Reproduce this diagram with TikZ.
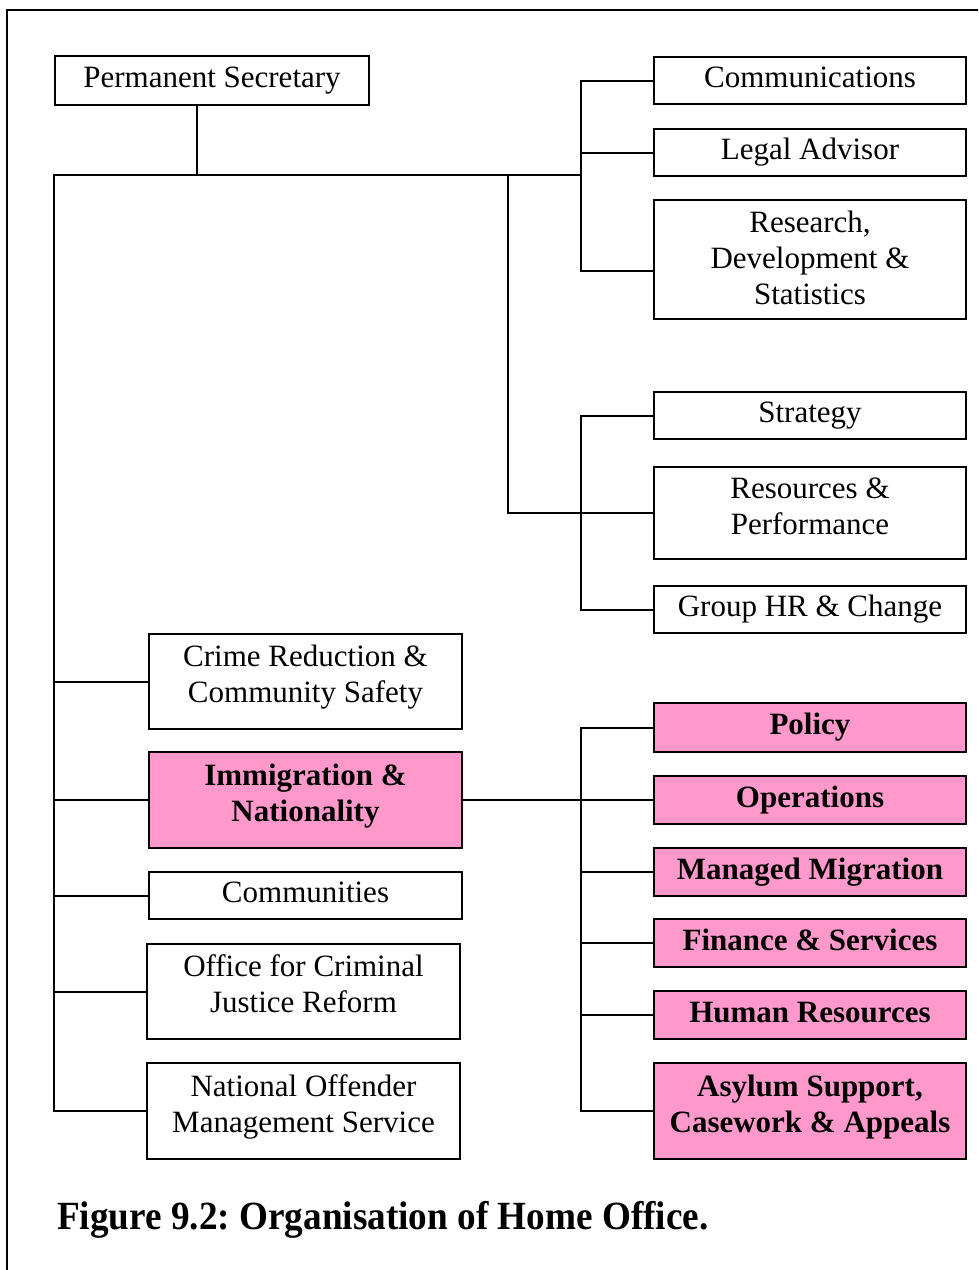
\documentclass[tikz,border=0pt]{standalone}
\usepackage{fontspec}
\setmainfont{Liberation Serif}
\usepackage{graphicx}
\frenchspacing
\definecolor{pinkfill}{RGB}{255,153,204}
% several centred lines inside a box, lifted a little towards the top
\newcommand{\boxlines}[2][4pt]{\raisebox{#1}[\height][\depth]{\begin{tabular}{@{}c@{}}#2\end{tabular}}}

\begin{document}
\begin{tikzpicture}[x=1pt,y=-1pt,
  unit/.style={draw=black, line width=2pt, inner sep=0pt, anchor=north west,
    font=\fontsize{31}{36}\selectfont},
  oneline/.style={unit, text height=22pt, text depth=8pt},
  multiline/.style={unit},
  ind/.style={fill=pinkfill, font=\bfseries\fontsize{31}{36}\selectfont},
  conn/.style={line width=2pt, line cap=rect},
]
\clip (0,0) rectangle (978,1270);

% frame around the figure
\draw[line width=2pt] (7,1290) -- (7,10) -- (1000,10);

% head of department
\node[oneline, minimum width=314pt, minimum height=49pt] (ps) at (54,55) {Permanent Secretary};

% central directorates
\node[oneline, minimum width=312pt, minimum height=47pt] (comm) at (653,56) {Communications};
\node[oneline, minimum width=312pt, minimum height=47pt] (legal) at (653,128) {Legal Advisor};
\node[multiline, minimum width=312pt, minimum height=119pt] (rds) at (653,199) {\boxlines[-2pt]{Research,\\Development \&\\Statistics}};

\node[oneline, minimum width=312pt, minimum height=47pt] (strat) at (653,391) {Strategy};
\node[multiline, minimum width=312pt, minimum height=92pt] (res) at (653,466) {\boxlines{Resources \&\\Performance}};
\node[oneline, minimum width=312pt, minimum height=47pt] (ghr) at (653,585) {Group HR \& Change};

% operational directorates
\node[multiline, minimum width=313pt, minimum height=95pt] (crime) at (148,633) {\boxlines{Crime Reduction \&\\Community Safety}};
\node[multiline, ind, minimum width=313pt, minimum height=96pt] (ind) at (148,751) {\boxlines{Immigration \&\\Nationality}};
\node[oneline, minimum width=313pt, minimum height=47pt] (cmty) at (148,871) {Communities};
\node[multiline, minimum width=313pt, minimum height=95pt] (ocjr) at (146,943) {\boxlines{Office for Criminal\\Justice Reform}};
\node[multiline, minimum width=313pt, minimum height=96pt] (noms) at (146,1062) {\boxlines{National Offender\\Management Service}};

% units of Immigration & Nationality
\node[oneline, ind, minimum width=312pt, minimum height=49pt] (pol) at (653,702) {Policy};
\node[oneline, ind, minimum width=312pt, minimum height=48pt] (ops) at (653,775) {Operations};
\node[oneline, ind, minimum width=312pt, minimum height=48pt] (mm) at (653,847) {Managed Migration};
\node[oneline, ind, minimum width=312pt, minimum height=48pt] (fin) at (653,918) {Finance \& Services};
\node[oneline, ind, minimum width=312pt, minimum height=48pt] (hr) at (653,990) {Human Resources};
\node[multiline, ind, minimum width=312pt, minimum height=96pt] (asy) at (653,1062) {\boxlines{Asylum Support,\\Casework \& Appeals}};

% junctions of the connector tree
\coordinate (drop) at (197,175);
\coordinate (jl) at (54,175);
\coordinate (jm) at (508,175);
\coordinate (jr) at (581,175);
\coordinate (rdsin) at (653,271);
\coordinate (b2) at (581,415);
\coordinate (b3) at (581,798);

% connectors
\draw[conn] (drop |- ps.south) -- (drop);
\draw[conn] (jl) -- (jr);
\draw[conn] (jr |- comm.west) -- (jr |- rdsin);
\draw[conn] (jr |- comm.west) -- (comm.west);
\draw[conn] (jr |- legal.west) -- (legal.west);
\draw[conn] (jr |- rdsin) -- (rdsin);

\draw[conn] (jm) -- (jm |- res.west) -- (res.west);
\draw[conn] (b2 |- strat.west) -- (b2 |- ghr.west);
\draw[conn] (b2 |- strat.west) -- (strat.west);
\draw[conn] (b2 |- ghr.west) -- (ghr.west);

\draw[conn] (jl) -- (jl |- noms.west) -- (noms.west);
\draw[conn] (jl |- crime.west) -- (crime.west);
\draw[conn] (jl |- ind.west) -- (ind.west);
\draw[conn] (jl |- cmty.west) -- (cmty.west);
\draw[conn] (jl |- ocjr.west) -- (ocjr.west);

\draw[conn] (ind.east) -- (ops.west);
\draw[conn] (b3 |- pol.west) -- (b3 |- asy.west);
\draw[conn] (b3 |- pol.west) -- (pol.west);
\draw[conn] (b3 |- mm.west) -- (mm.west);
\draw[conn] (b3 |- fin.west) -- (fin.west);
\draw[conn] (b3 |- hr.west) -- (hr.west);
\draw[conn] (b3 |- asy.west) -- (asy.west);

% caption
\node[anchor=base west, inner sep=0pt, font=\bfseries\fontsize{40}{44}\selectfont] (cap) at (57,1229)
  {\scalebox{0.93}[1]{Figure 9.2: Organisation of Home Office.}};
\end{tikzpicture}
\end{document}
